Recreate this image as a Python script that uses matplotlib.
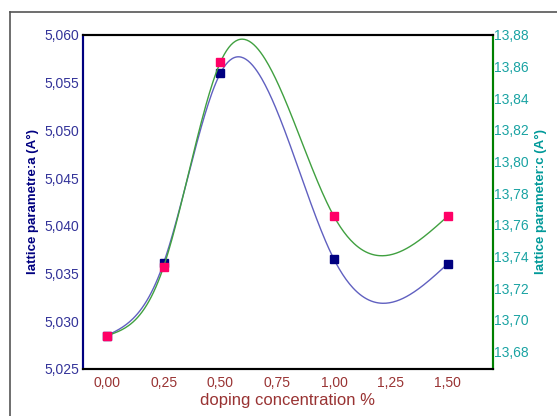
import numpy as np
import matplotlib.pyplot as plt
from matplotlib.ticker import FuncFormatter, MultipleLocator
from matplotlib.lines import Line2D

plt.rcParams['font.family'] = ['Liberation Sans', 'DejaVu Sans']

# doping concentration (%)
doping = [0.00, 0.25, 0.50, 1.00, 1.50]
# lattice parameter a (A°) and c (A°)
param_a = [5.0285, 5.0361, 5.0560, 5.0365, 5.0360]
param_c = [13.690, 13.7336, 13.8628, 13.7654, 13.7654]


def natural_spline(x, y, n=300):
    x = np.asarray(x, float)
    y = np.asarray(y, float)
    k = len(x)
    h = np.diff(x)
    A = np.zeros((k, k))
    r = np.zeros(k)
    A[0, 0] = A[-1, -1] = 1
    for i in range(1, k - 1):
        A[i, i - 1] = h[i - 1]
        A[i, i] = 2 * (h[i - 1] + h[i])
        A[i, i + 1] = h[i]
        r[i] = 6 * ((y[i + 1] - y[i]) / h[i] - (y[i] - y[i - 1]) / h[i - 1])
    m = np.linalg.solve(A, r)
    xs = np.linspace(x[0], x[-1], n)
    idx = np.clip(np.searchsorted(x, xs) - 1, 0, k - 2)
    x0, x1 = x[idx], x[idx + 1]
    hh = x1 - x0
    t0, t1 = x1 - xs, xs - x0
    ys = (m[idx] * t0**3 + m[idx + 1] * t1**3) / (6 * hh) \
        + (y[idx] / hh - m[idx] * hh / 6) * t0 \
        + (y[idx + 1] / hh - m[idx + 1] * hh / 6) * t1
    return xs, ys


def comma(fmt):
    return FuncFormatter(lambda v, p: (fmt % v).replace('.', ','))


fig = plt.figure(figsize=(5.57, 4.16), dpi=100)
ax = fig.add_axes([0.149, 0.113, 0.736, 0.803])
ax2 = ax.twinx()

navy = '#000080'
pink = '#ff0066'
teal = '#1aa3a3'

xs, ys = natural_spline(doping, param_a)
ax.plot(xs, ys, color='#6060c0', lw=1, zorder=2)
ax.plot(doping, param_a, 's', color=navy, ms=5.5, zorder=3)

xs, ys = natural_spline(doping, param_c)
ax2.plot(xs, ys, color='#40a040', lw=1, zorder=2)
ax2.plot(doping, param_c, 's', color=pink, ms=5.5, zorder=4)

ax.set_xlim(-0.105, 1.70)
ax.set_ylim(5.025, 5.060)

ax.xaxis.set_major_locator(MultipleLocator(0.25))
ax.yaxis.set_major_locator(MultipleLocator(0.005))
ax2.yaxis.set_major_locator(MultipleLocator(0.02))
ax2.set_ylim(13.669, 13.88)
ax.xaxis.set_major_formatter(comma('%.2f'))
ax.yaxis.set_major_formatter(comma('%.3f'))
ax2.yaxis.set_major_formatter(comma('%.2f'))

ax.tick_params(axis='x', length=0, pad=5, labelsize=10, labelcolor='#993333')
ax.tick_params(axis='y', length=0, pad=3, labelsize=10, labelcolor='#333399')
ax2.tick_params(axis='y', length=0, pad=1, labelsize=10, labelcolor=teal)

for a_ in (ax, ax2):
    a_.spines['top'].set_color('black')
    a_.spines['bottom'].set_color('black')
    a_.spines['left'].set_color(navy)
    a_.spines['right'].set_color('green')
    for s in a_.spines.values():
        s.set_linewidth(1.5)

ax.set_xlabel('doping concentration %', color='#993333', fontsize=12, labelpad=2)
ax.set_ylabel('lattice parametre:a (A°)', color=navy, fontsize=9.5, fontweight='bold')
ax2.set_ylabel('lattice parameter:c (A°)', color='#009999', fontsize=9.5, fontweight='bold')
ax.yaxis.set_label_coords(-0.107, 0.5)
ax2.yaxis.set_label_coords(1.103, 0.5)

# outer frame
fig.add_artist(Line2D([0.018, 0.018], [0, 0.971], color='#555555', lw=1.2))
fig.add_artist(Line2D([0.018, 1.0], [0.971, 0.971], color='#555555', lw=1.2))

fig.savefig('out.png', dpi=100)
